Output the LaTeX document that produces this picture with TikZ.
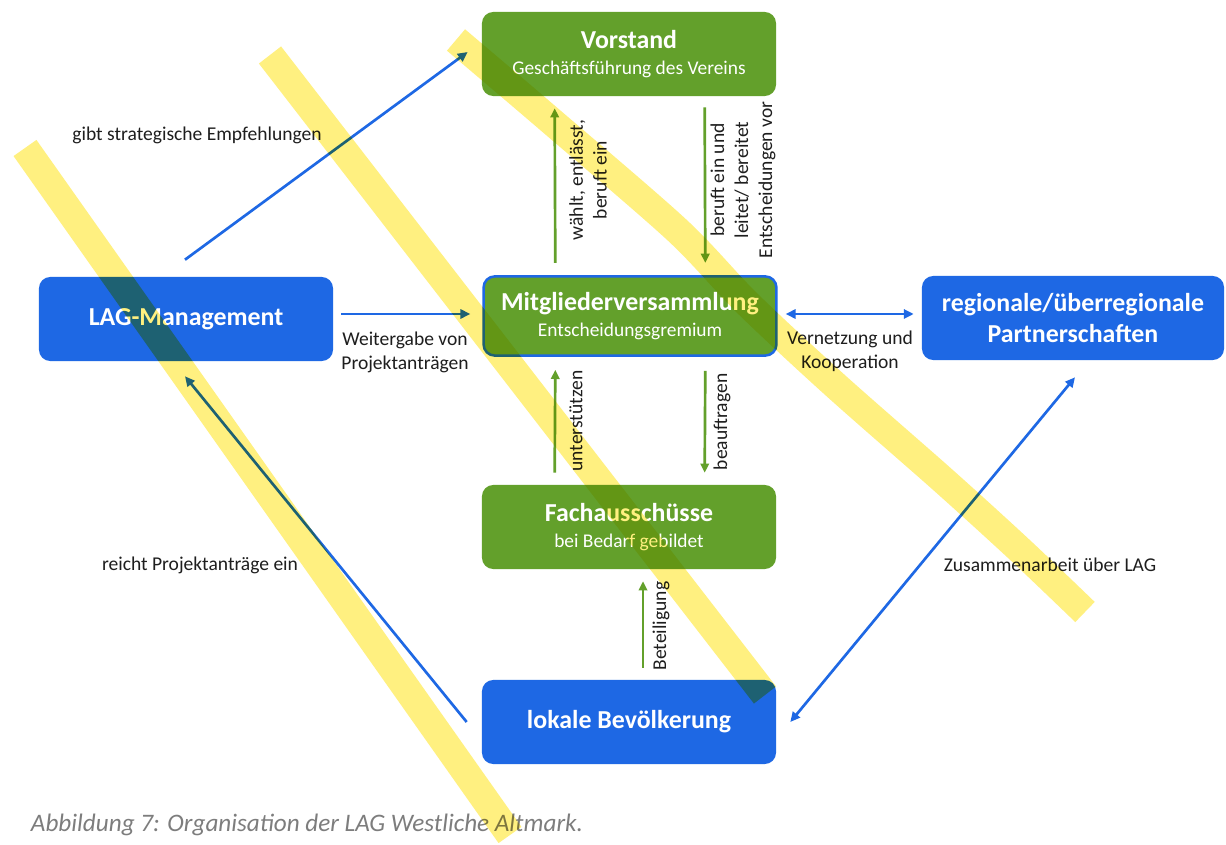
\documentclass[tikz,border=0pt]{standalone}
\usepackage{fontspec}
\setmainfont{Carlito}
\usetikzlibrary{arrows.meta,calc}
\definecolor{lagreen}{RGB}{99,160,43}
\definecolor{lablue}{RGB}{30,104,228}
\definecolor{marker}{RGB}{255,240,128}
\definecolor{capgray}{RGB}{125,125,125}
\definecolor{labeltxt}{RGB}{30,30,30}
\newcommand{\unittitle}{\fontsize{18.4}{22.6}\selectfont\bfseries}
\newcommand{\unitsub}{\fontsize{13.8}{16.5}\selectfont}
\tikzset{
  unit/.style={rounded corners=8pt, text=white, align=center, inner sep=0pt,
    minimum width=7.35cm, minimum height=2.1cm},
  greenunit/.style={unit, fill=lagreen, font=\fontsize{13.8}{19}\selectfont},
  blueunit/.style={unit, fill=lablue, font=\unittitle},
  lbl/.style={text=labeltxt, align=center, font=\fontsize{13.9}{17}\selectfont},
  tip/.style={-{Triangle[length=7pt,width=6.5pt]}},
  twotips/.style={{Triangle[length=7pt,width=6.5pt]}-{Triangle[length=7pt,width=6.5pt]}},
  bluearrow/.style={draw=lablue, line width=1.9pt, tip},
  greenarrow/.style={draw=lagreen, line width=1.9pt, -{Triangle[length=6.5pt,width=6pt]}},
  hl/.style={draw=marker, line width=0.7cm, line cap=butt, blend mode=multiply}
}
\begin{document}
\begin{tikzpicture}[x=0.025cm, y=-0.025cm]
  \useasboundingbox[fill=white] (0,0) rectangle (1226,845);
  \node[greenunit] (vorstand) at (629,54)
    {{\unittitle Vorstand}\\{\unitsub Geschäftsführung des Vereins}};
  \node[greenunit, draw=lablue, line width=1.8pt, minimum width=7.32cm, minimum height=1.98cm] (mitglieder) at (630,316)
    {{\unittitle Mitgliederversammlung}\\{\unitsub Entscheidungsgremium}};
  \node[greenunit] (fach) at (629,527)
    {{\unittitle Fachausschüsse}\\{\unitsub bei Bedarf gebildet}};
  \node[blueunit] (lokale) at (629,722) {lokale Bevölkerung};
  \node[blueunit] (lag) at (186,319) {LAG-Management};
  \node[blueunit, minimum width=7.55cm, text width=7.3cm] (partner) at (1073,318)
    {regionale/überregionale\\Partnerschaften};

  \node[lbl] (empf) at (197,135) {gibt strategische Empfehlungen};
  \node[lbl] (weiter) at (405,352) {Weitergabe von\\Projektanträgen};
  \node[lbl] (vernetz) at (850,351) {Vernetzung und\\Kooperation};
  \node[lbl] (reicht) at (200,565) {reicht Projektanträge ein};
  \node[lbl] (zusammen) at (1050,565) {Zusammenarbeit über LAG};
  \node[lbl, rotate=90] (waehlt) at (588,180) {wählt, entlässt,\\beruft ein};
  \node[lbl, rotate=90] (beruft) at (743,180) {beruft ein und\\leitet/ bereitet\\Entscheidungen vor};
  \node[lbl, rotate=90] (unterst) at (576,421) {unterstützen};
  \node[lbl, rotate=90] (beauftr) at (722,422) {beauftragen};
  \node[lbl, rotate=90] (beteil) at (661,626) {Beteiligung};
  \node[anchor=west, text=capgray, font=\fontsize{17.9}{21}\selectfont\itshape] (caption) at (26,825)
    {Abbildung 7: Organisation der LAG Westliche Altmark.};

  \begin{scope}[bluearrow]
    \draw ($(lag.north)+(-1,-17)$) to ($(vorstand.west)+(-14,-2)$);
    \draw ($(lag.east)+(8,-5)$) to ($(mitglieder.west)+(-12,-2)$);
    \draw[twotips] ($(mitglieder.east)+(8,-2)$) to ($(partner.west)+(-8,-4)$);
    \draw ($(lokale.west)+(-15,0)$) to ($(lag.south)+(-1,15)$);
    \draw[twotips] ($(lokale.east)+(14,0)$) to ($(partner.south)+(2,17)$);
  \end{scope}
  \begin{scope}[greenarrow]
    \draw ($(mitglieder.south west)+(73,-94)$) to ($(vorstand.south west)+(73,12)$);
    \draw ($(vorstand.south west)+(223,11)$) to ($(mitglieder.south west)+(223,-94)$);
    \draw ($(fach.north west)+(73,-12)$) to ($(mitglieder.south west)+(73,13)$);
    \draw ($(mitglieder.south west)+(223,14)$) to ($(fach.north west)+(223,-12)$);
    \draw ($(lokale.north)+(14,-12)$) to ($(fach.south)+(14,12)$);
  \end{scope}

  \draw[hl] (25,148) -- (510,835);
  \draw[hl] (270,55) -- (765,695);
  \draw[hl] plot[smooth, tension=0.5] coordinates {(456,40) (550,120) (677,230) (747,303) (835,385) (943,480) (1020,550) (1085,612)};
\end{tikzpicture}
\end{document}
